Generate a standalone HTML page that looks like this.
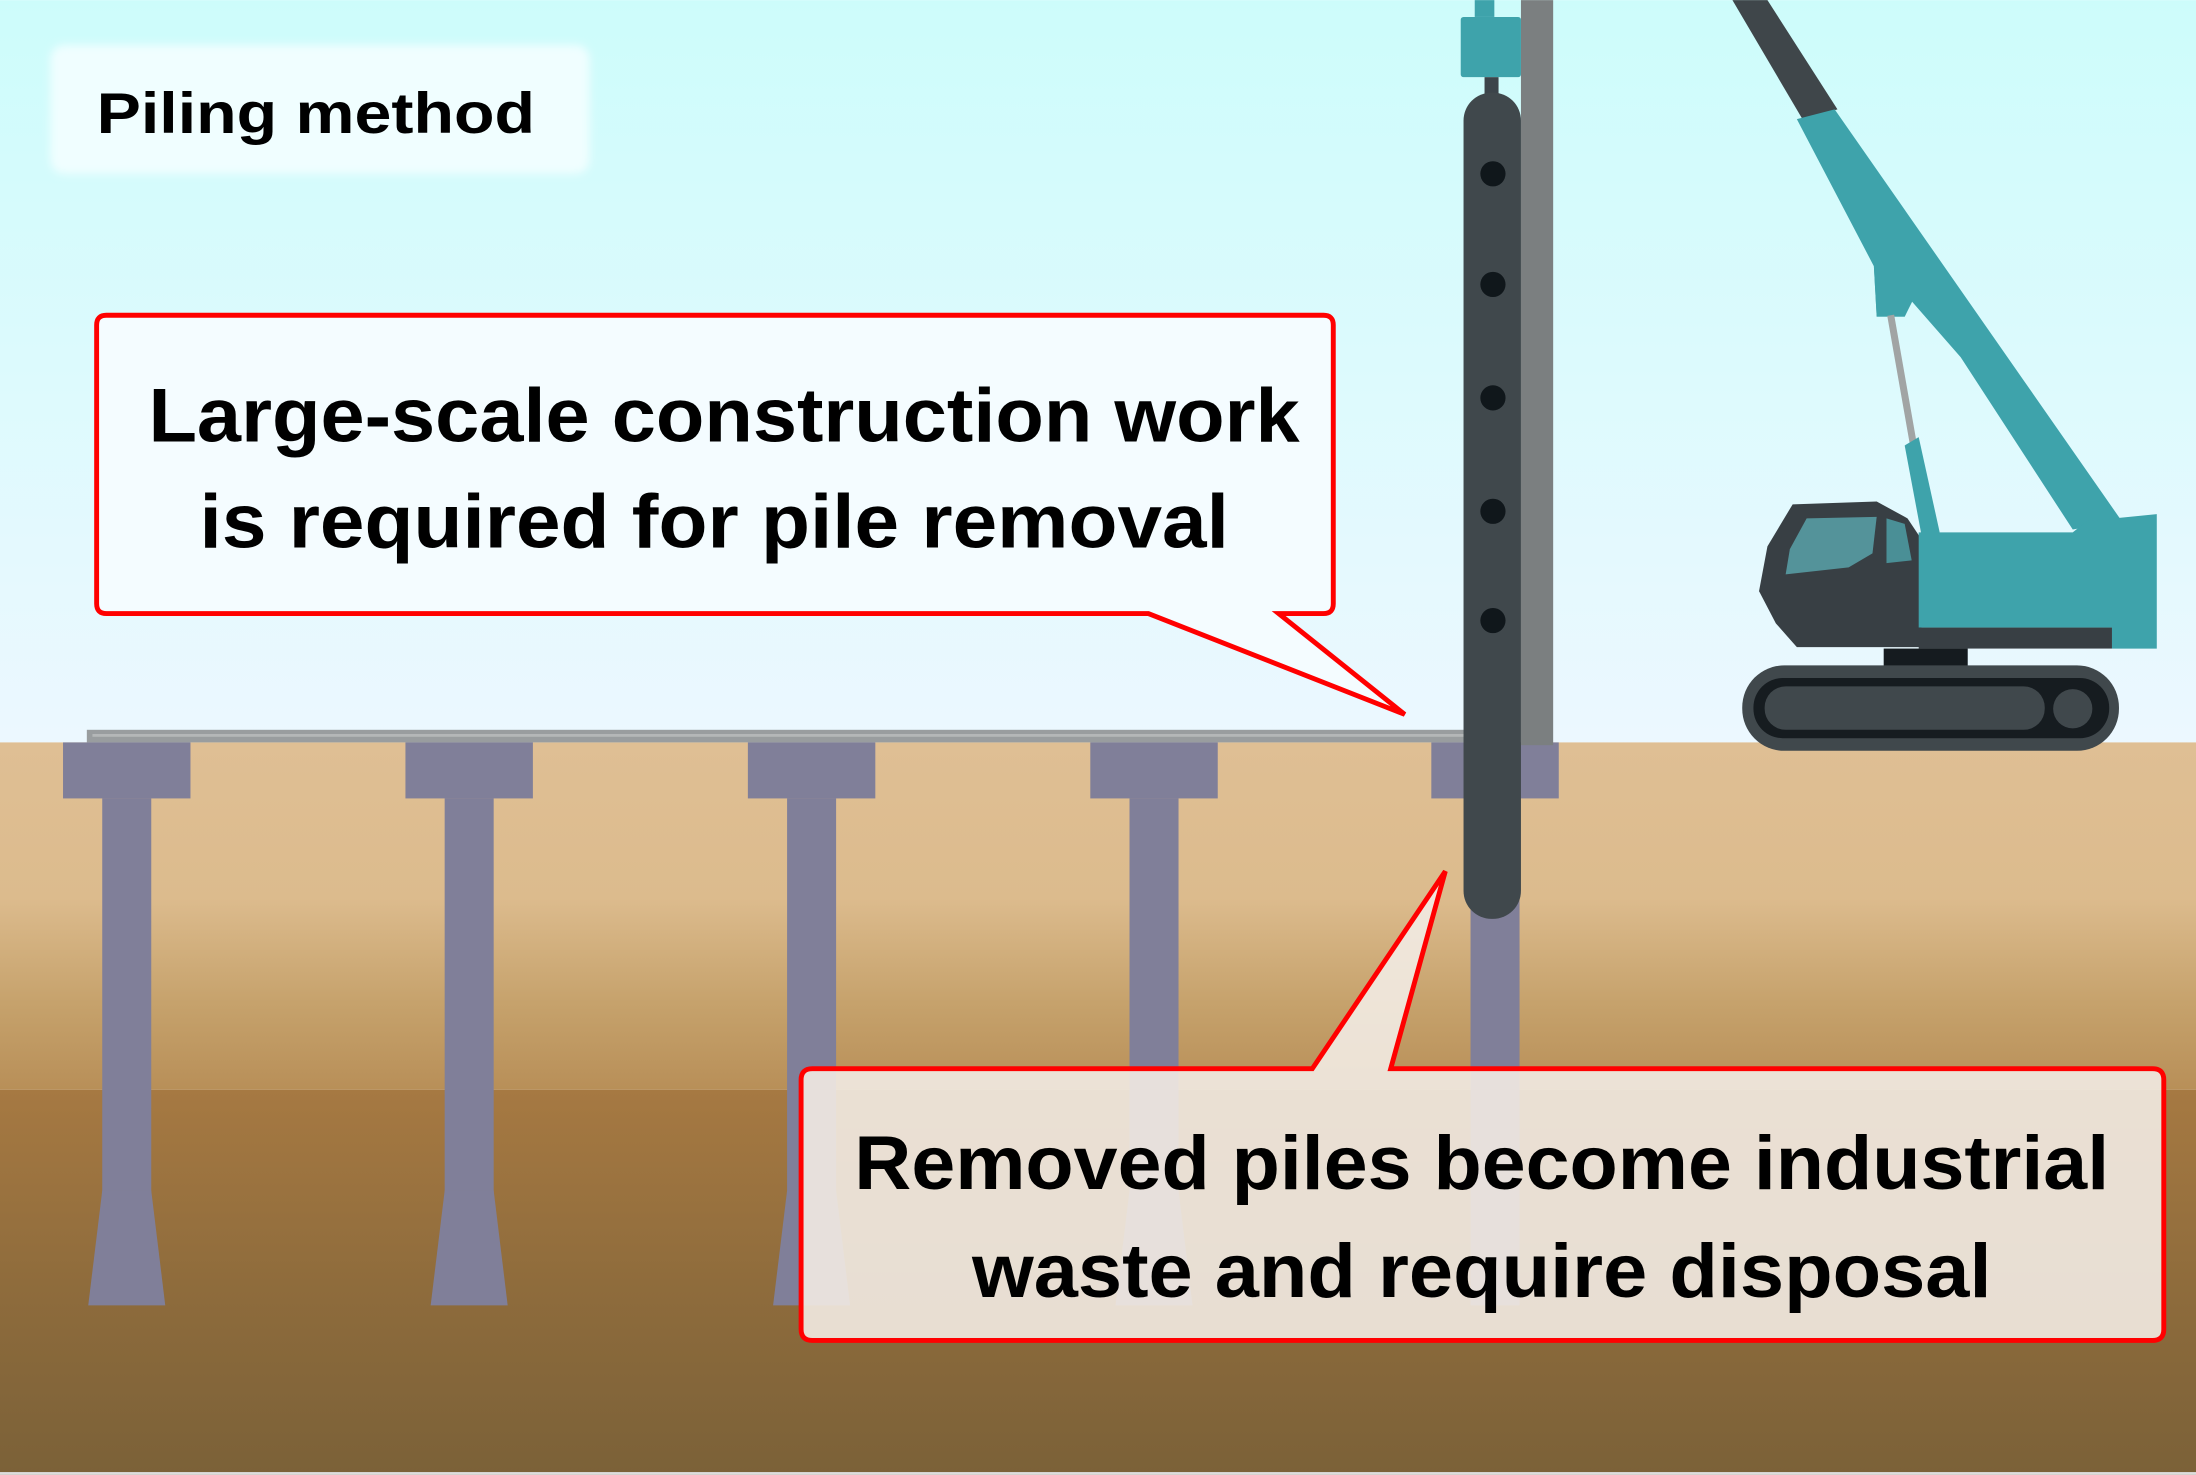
<!DOCTYPE html>
<html><head><meta charset="utf-8"><style>
html,body{margin:0;padding:0;background:#fff}
svg{display:block}
</style></head><body>
<svg width="2196" height="1475" viewBox="0 0 1568 1053" xmlns="http://www.w3.org/2000/svg">
<defs>
<linearGradient id="sky" x1="0" y1="0" x2="0" y2="1">
<stop offset="0" stop-color="#cdfcfb"/><stop offset="1" stop-color="#ecf8ff"/>
</linearGradient>
<linearGradient id="soil1" x1="0" y1="0" x2="0" y2="1">
<stop offset="0" stop-color="#dfbf94"/><stop offset="0.45" stop-color="#dcbb8d"/><stop offset="0.75" stop-color="#c6a26c"/><stop offset="1" stop-color="#b88f58"/>
</linearGradient>
<linearGradient id="soil2" x1="0" y1="0" x2="0" y2="1">
<stop offset="0" stop-color="#a67942"/><stop offset="0.5" stop-color="#8f6c3c"/><stop offset="1" stop-color="#7b6138"/>
</linearGradient>
<filter id="blur"><feGaussianBlur stdDeviation="3"/></filter>
</defs>
<rect x="0" y="0" width="1568" height="530" fill="url(#sky)"/>
<rect x="0" y="530" width="1568" height="248" fill="url(#soil1)"/>
<rect x="0" y="778" width="1568" height="275" fill="url(#soil2)"/>
<rect x="0" y="1051" width="1568" height="2" fill="#ddd"/>

<rect x="62" y="521" width="990" height="9" fill="#999d9f"/>
<rect x="66" y="524" width="985" height="2" fill="#b4b7b8"/>

<g fill="#807f99">
<g id="p"><rect x="45" y="530" width="91" height="40"/><rect x="73" y="570" width="35" height="282"/><polygon points="73,850 108,850 118,932 63,932"/></g>
<use href="#p" x="244.5"/>
<use href="#p" x="489"/>
<use href="#p" x="733.5"/>
<rect x="1022" y="530" width="91" height="40"/>
<rect x="1050" y="570" width="35" height="362"/>
</g>

<rect x="1086" y="0" width="23" height="532" fill="#7b7f80"/>
<rect x="1053" y="0" width="14" height="12" fill="#3ea3ab"/>
<rect x="1043" y="12" width="43" height="43" rx="2" fill="#3ea3ab"/>
<rect x="1060" y="55" width="10" height="15" fill="#3c444a"/>
<rect x="1045" y="66" width="41" height="590" rx="20" fill="#40484c"/>
<g fill="#10171b">
<ellipse cx="1066" cy="124" rx="9" ry="9"/>
<ellipse cx="1066" cy="203" rx="9" ry="9"/>
<ellipse cx="1066" cy="284" rx="9" ry="9"/>
<ellipse cx="1066" cy="365" rx="9" ry="9"/>
<ellipse cx="1066" cy="443" rx="9" ry="9"/>
</g>

<polygon points="1237,0 1262,0 1312,78 1287,85" fill="#3f464a"/>
<polygon points="1283,85 1310,78 1515,372 1480,378 1400,255 1365,215 1360,226 1340,226 1338,190" fill="#3ea3ab"/>
<polygon points="1338,190 1378,190 1360,226 1340,226" fill="#3ea3ab"/>
<line x1="1350" y1="225" x2="1366" y2="316" stroke="#a1a4a4" stroke-width="5"/>
<polygon points="1360,318 1370,312 1385,380 1372,382" fill="#3ea3ab"/>
<polygon points="1280,360 1340,358 1362,370 1372,385 1372,462 1283,462 1268,445 1256,422 1262,390" fill="#383f44"/>
<polygon points="1290,370 1340,369 1337,395 1320,405 1275,410 1278,392" fill="#54939a"/>
<polygon points="1347,370 1360,374 1365,400 1347,402" fill="#4a8f96"/>
<polygon points="1370,380 1480,380 1490,372 1540,367 1540,463 1508,463 1508,448 1370,448" fill="#3ea3ab"/>
<rect x="1370" y="448" width="138" height="15" fill="#383f44"/>
<rect x="1345" y="463" width="60" height="14" fill="#151b1f"/>
<rect x="1244" y="475" width="269" height="61" rx="30" fill="#40484c"/>
<rect x="1252" y="484" width="254" height="43" rx="21" fill="#161c20"/>
<rect x="1260" y="490" width="200" height="31" rx="15" fill="#40484c"/>
<circle cx="1480" cy="506" r="14" fill="#40484c"/>

<rect x="36" y="32" width="385" height="92" rx="10" fill="#f0feff" filter="url(#blur)"/>
<text x="69" y="95" font-family="Liberation Sans, sans-serif" font-weight="bold" font-size="41" fill="#000" textLength="313" lengthAdjust="spacingAndGlyphs">Piling method</text>

<path d="M76,225 H945 Q952,225 952,232 V431 Q952,438 945,438 H913 L1003,510 L820,438 H76 Q69,438 69,431 V232 Q69,225 76,225 Z" fill="#f4fcff" stroke="#ff0000" stroke-width="3.5"/>
<text x="517" y="315" text-anchor="middle" font-family="Liberation Sans, sans-serif" font-weight="bold" font-size="54" fill="#000" textLength="822" lengthAdjust="spacingAndGlyphs">Large-scale construction work</text>
<text x="510" y="391" text-anchor="middle" font-family="Liberation Sans, sans-serif" font-weight="bold" font-size="54" fill="#000" textLength="735" lengthAdjust="spacingAndGlyphs">is required for pile removal</text>

<path d="M580,763 H937 L1032,622 L993,763 H1537 Q1545,763 1545,771 V949 Q1545,957 1537,957 H580 Q572,957 572,949 V771 Q572,763 580,763 Z" fill="#f2ebe3" fill-opacity="0.9" stroke="#ff0000" stroke-width="3.5"/>
<text x="1058" y="849" text-anchor="middle" font-family="Liberation Sans, sans-serif" font-weight="bold" font-size="54" fill="#000" textLength="896" lengthAdjust="spacingAndGlyphs">Removed piles become industrial</text>
<text x="1058" y="926" text-anchor="middle" font-family="Liberation Sans, sans-serif" font-weight="bold" font-size="54" fill="#000" textLength="728" lengthAdjust="spacingAndGlyphs">waste and require disposal</text>
</svg>
</body></html>
